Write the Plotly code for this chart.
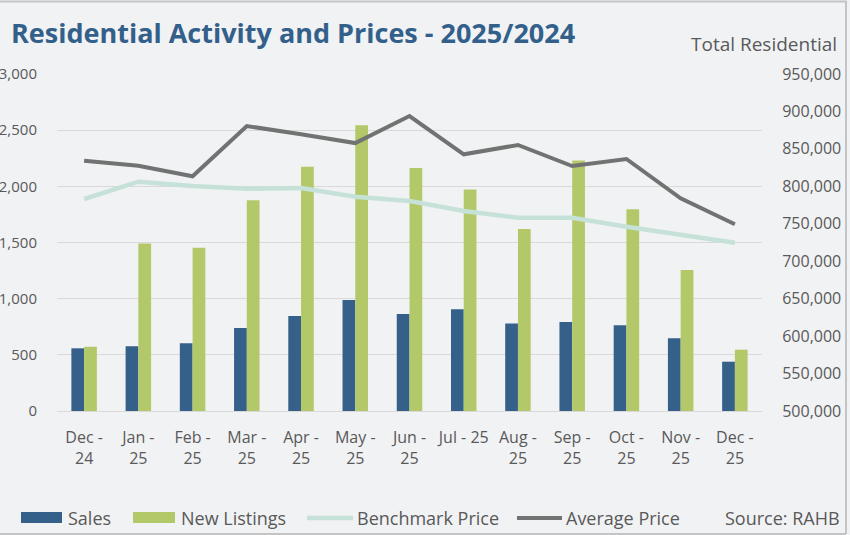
import plotly.graph_objects as go

categories = ["Dec -<br>24", "Jan -<br>25", "Feb -<br>25", "Mar -<br>25", "Apr -<br>25",
              "May -<br>25", "Jun -<br>25", "Jul - 25", "Aug -<br>25", "Sep -<br>25",
              "Oct -<br>25", "Nov -<br>25", "Dec -<br>25"]
sales = [558, 576, 603, 739, 846, 988, 864, 905, 778, 792, 763, 647, 439]
new_listings = [572, 1490, 1454, 1876, 2175, 2544, 2164, 1971, 1621, 2229, 1796, 1256, 546]
benchmark_price = [783100, 806200, 800400, 796800, 797800, 786200, 780400, 767000,
                   758100, 757900, 746100, 735000, 724800]
average_price = [834200, 827500, 813400, 880500, 869500, 857800, 893900, 842800,
                 855200, 827100, 836500, 784000, 749300]

SALES_C = "#34608a"
NL_C = "#b3c969"
BENCH_C = "#c6e2d8"
AVG_C = "#707372"
TEXT_C = "#595959"
BG = "#f1f2f4"
FONT = "Open Sans"

W, H = 850, 535
L, R, T, B = 57, 88, 74, 124
PW, PH = W - L - R, H - T - B


def px(x):
    return (x - L) / PW


def py(y):
    return (H - B - y) / PH


fig = go.Figure()
fig.add_trace(go.Bar(x=categories, y=sales, name="Sales", marker_color=SALES_C,
                     marker_line_width=0, showlegend=False))
fig.add_trace(go.Bar(x=categories, y=new_listings, name="New Listings", marker_color=NL_C,
                     marker_line_width=0, showlegend=False))
fig.add_trace(go.Scatter(x=categories, y=benchmark_price, name="Benchmark Price", yaxis="y2",
                         mode="lines", line=dict(color=BENCH_C, width=4.5), showlegend=False))
fig.add_trace(go.Scatter(x=categories, y=average_price, name="Average Price", yaxis="y2",
                         mode="lines", line=dict(color=AVG_C, width=4), showlegend=False))

shapes = []
annotations = []

# outer border
for (x0, y0, x1, y1) in [(0, 1.5, 847, 1.5), (846, 1.5, 846, 534), (0, 534, 846, 534)]:
    shapes.append(dict(type="line", xref="paper", yref="paper", x0=px(x0), y0=py(y0),
                       x1=px(x1), y1=py(y1), line=dict(color="#c4c4c4", width=2)))

# legend
shapes.append(dict(type="rect", xref="paper", yref="paper", x0=px(21), x1=px(62),
                   y0=py(523), y1=py(512), fillcolor=SALES_C, line=dict(width=0)))
shapes.append(dict(type="rect", xref="paper", yref="paper", x0=px(133), x1=px(175),
                   y0=py(523), y1=py(512), fillcolor=NL_C, line=dict(width=0)))
shapes.append(dict(type="line", xref="paper", yref="paper", x0=px(307), x1=px(353),
                   y0=py(518), y1=py(518), line=dict(color=BENCH_C, width=4.5)))
shapes.append(dict(type="line", xref="paper", yref="paper", x0=px(517), x1=px(562),
                   y0=py(518), y1=py(518), line=dict(color=AVG_C, width=4)))

for text, x in [("Sales", 66), ("New Listings", 179), ("Benchmark Price", 355), ("Average Price", 564)]:
    annotations.append(dict(text=text, xref="paper", yref="paper", x=px(x), y=py(518),
                            xanchor="left", yanchor="middle", showarrow=False,
                            font=dict(family=FONT, size=18, color=TEXT_C)))
annotations.append(dict(text="Source: RAHB", xref="paper", yref="paper", x=px(842), y=py(518),
                        xanchor="right", yanchor="middle", showarrow=False,
                        font=dict(family=FONT, size=18, color=TEXT_C)))

# title and axis caption
annotations.append(dict(text="<b>Residential Activity and Prices - 2025/2024</b>", xref="paper",
                        yref="paper", x=px(9), y=py(33), xanchor="left", yanchor="middle",
                        showarrow=False, font=dict(family=FONT, size=27, color="#33608a")))
annotations.append(dict(text="Total Residential", xref="paper", yref="paper", x=px(839),
                        y=py(44), xanchor="right", yanchor="middle", showarrow=False,
                        font=dict(family=FONT, size=19, color=TEXT_C)))

fig.update_layout(
    width=W, height=H,
    margin=dict(l=L, r=R, t=T, b=B, autoexpand=False),
    paper_bgcolor=BG, plot_bgcolor=BG,
    barmode="group", bargap=0.53, bargroupgap=0,
    font=dict(family=FONT, size=16, color=TEXT_C),
    xaxis=dict(showgrid=False, showline=False, ticks="outside", ticklen=12,
               tickcolor="rgba(0,0,0,0)", tickfont=dict(size=16, color=TEXT_C)),
    yaxis=dict(range=[0, 3000], dtick=500, tickformat=",", showgrid=True,
               gridcolor="#d9d9d9", gridwidth=1.3, zeroline=True, zerolinecolor="#d9d9d9",
               zerolinewidth=1.3, ticks="outside", ticklen=16, tickcolor="rgba(0,0,0,0)",
               tickfont=dict(size=15, color=TEXT_C), showline=False),
    yaxis2=dict(range=[500000, 950000], dtick=50000, tickformat=",", overlaying="y",
                side="right", showgrid=False, zeroline=False, ticks="outside", ticklen=16,
                tickcolor="rgba(0,0,0,0)", tickfont=dict(size=16, color=TEXT_C), showline=False),
    shapes=shapes, annotations=annotations,
    showlegend=False,
)

fig.write_html("out.html", config={"displayModeBar": False},
               post_script="document.body.style.margin='0';document.body.style.padding='0';"
                           "document.body.style.overflow='hidden';")
